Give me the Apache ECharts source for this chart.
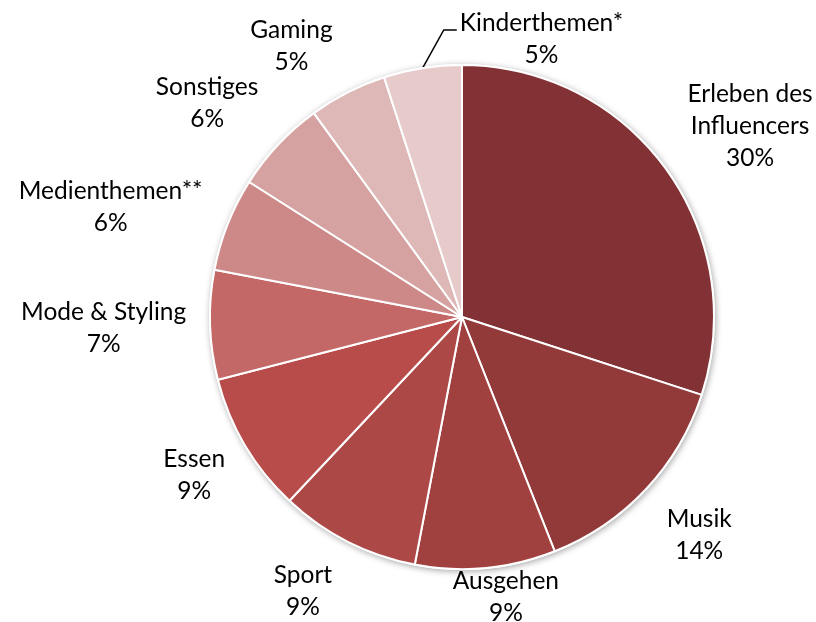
<!DOCTYPE html>
<html>
<head>
<meta charset="utf-8">
<title>Themen</title>
<script src="https://cdn.jsdelivr.net/npm/echarts@6/dist/echarts.min.js"></script>
<style>
  html, body { margin: 0; padding: 0; background: #ffffff; }
  #chart { width: 816px; height: 622px; }
</style>
</head>
<body>
<div id="chart"></div>
<script>
// Topic shares (percent), clockwise from twelve o'clock
var categories = [
  'Erleben des\nInfluencers',
  'Musik',
  'Ausgehen',
  'Sport',
  'Essen',
  'Mode & Styling',
  'Medienthemen**',
  'Sonstiges',
  'Gaming',
  'Kinderthemen*'
];
var shares = [30, 14, 9, 9, 9, 7, 6, 6, 5, 5];

// Slice fills, dark to light
var sliceColors = [
  '#823134', '#923a3a', '#a0413f', '#ac4846', '#b84c4a',
  '#c36866', '#cd8988', '#d5a2a1', '#deb8b7', '#e7cbcb'
];

// Geometry and label placement
var CENTER = [462, 317];
var RADIUS = 252;
var LABEL_GAP = 34;
var LEADER_INDEX = 9;
// small per-label shifts applied after the radial placement
var labelNudge = [[6, 5], [5, 0], [12, -36], [-16, -9], [5, -4], [10, 1], [0, 7], [-9, 4], [-22, 12], [137, 36]];

// mid angle of each slice, radians clockwise from the top
var total = shares.reduce(function (s, v) { return s + v; }, 0);
var midAngles = [];
(function () {
  var acc = 0;
  for (var i = 0; i < shares.length; i++) {
    midAngles.push((acc + shares[i] / 2) / total * Math.PI * 2);
    acc += shares[i];
  }
})();

var pieData = categories.map(function (name, i) {
  var item = { name: name, value: shares[i], itemStyle: { color: sliceColors[i] } };
  if (i === LEADER_INDEX) {
    item.labelLine = { show: true, lineStyle: { color: '#000000', width: 1.5 } };
  }
  return item;
});

var chart = echarts.init(document.getElementById('chart'), null, { renderer: 'canvas' });

chart.setOption({
  animation: false,
  backgroundColor: '#ffffff',
  series: [
    {
      // soft drop shadow under the whole disc
      type: 'pie',
      silent: true,
      center: CENTER,
      radius: RADIUS + 1,
      startAngle: 90,
      label: { show: false },
      labelLine: { show: false },
      itemStyle: {
        color: '#ffffff',
        shadowBlur: 6,
        shadowColor: 'rgba(0,0,0,0.35)',
        shadowOffsetX: 1,
        shadowOffsetY: 1.5
      },
      data: [{ value: 1, name: '' }],
      z: 1
    },
    {
      type: 'pie',
      center: CENTER,
      radius: RADIUS,
      startAngle: 90,
      clockwise: true,
      avoidLabelOverlap: false,
      z: 2,
      emphasis: { disabled: true },
      itemStyle: { borderColor: '#ffffff', borderWidth: 2 },
      label: {
        show: true,
        position: 'outside',
        color: '#000000',
        fontFamily: 'Lato',
        fontSize: 24.5,
        lineHeight: 32,
        align: 'center',
        formatter: function (p) { return p.name + '\n' + p.value + '%'; }
      },
      labelLine: { show: false },
      labelLayout: function (p) {
        var i = p.dataIndex;
        var a = midAngles[i];
        var ux = Math.sin(a), uy = -Math.cos(a);
        var w = p.labelRect.width, h = p.labelRect.height;
        var d = RADIUS + LABEL_GAP;
        var cx = CENTER[0] + ux * d + ux * w / 2 + labelNudge[i][0];
        var cy = CENTER[1] + uy * d + uy * h / 2 + labelNudge[i][1];
        var out = { x: cx, y: cy, align: 'center', verticalAlign: 'middle' };
        if (i === LEADER_INDEX) {
          var ex = CENTER[0] + ux * RADIUS, ey = CENTER[1] + uy * RADIUS;
          var tx = cx - w / 2 - 3, ty = cy - h / 2 + 23;
          out.labelLinePoints = [[ex, ey], [tx - 13, ty], [tx, ty]];
        }
        return out;
      },
      data: pieData
    }
  ]
});
</script>
</body>
</html>
